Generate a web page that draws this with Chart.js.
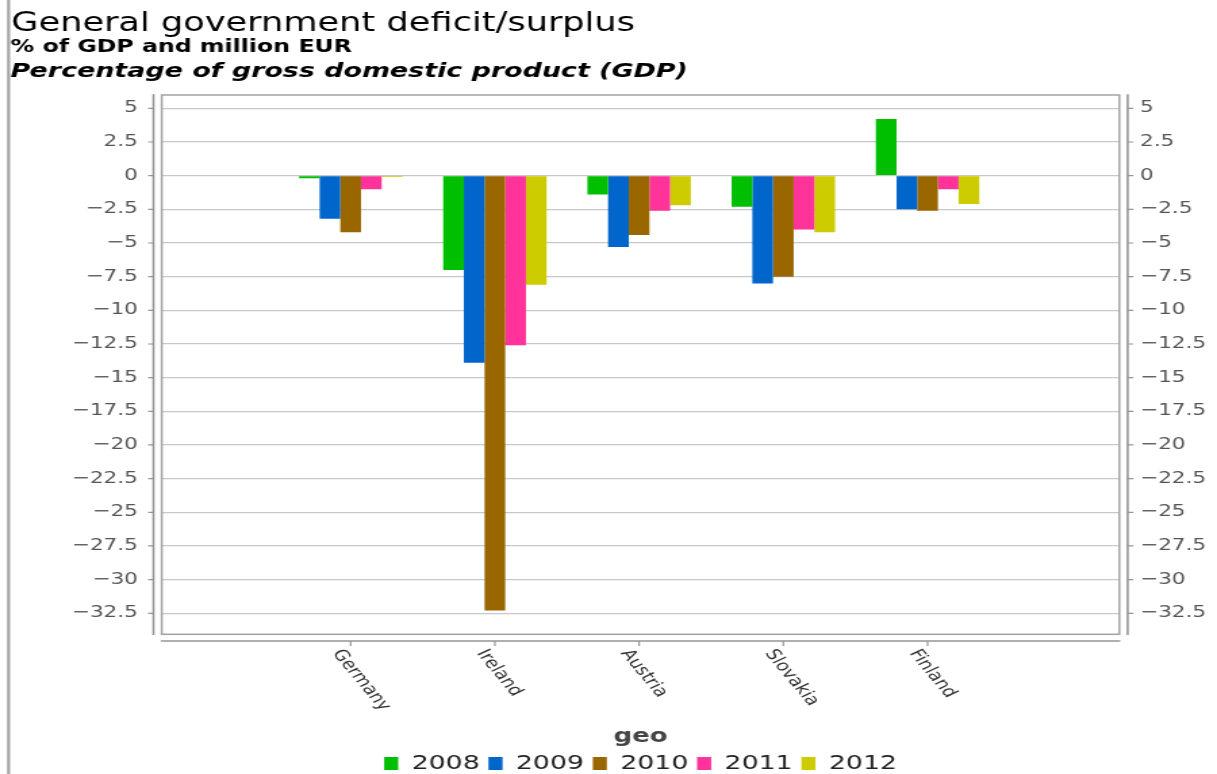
<!DOCTYPE html>
<html>
<head>
<meta charset="utf-8">
<script src="https://cdn.jsdelivr.net/npm/chart.js@4/dist/chart.umd.min.js"></script>
<style>
  html, body { margin: 0; padding: 0; background: #ffffff; overflow: hidden; }
  /* the chart is laid out on a 900px-wide canvas and widened to the full window */
  #wrap { width: 900px; height: 774px; transform: scaleX(1.35222); transform-origin: 0 0; }
  canvas { display: block; }
</style>
</head>
<body>
<div id="wrap"><canvas id="c" width="900" height="774" style="width:900px;height:774px"></canvas></div>
<script>
// General government deficit/surplus, % of GDP
const categories = ['Germany', 'Ireland', 'Austria', 'Slovakia', 'Finland'];
const years = ['2008', '2009', '2010', '2011', '2012'];
const values2008 = [-0.2, -7.0, -1.4, -2.3, 4.2];
const values2009 = [-3.2, -13.9, -5.3, -8.0, -2.5];
const values2010 = [-4.2, -32.3, -4.4, -7.5, -2.6];
const values2011 = [-1.0, -12.6, -2.6, -4.0, -1.0];
const values2012 = [-0.1, -8.1, -2.2, -4.2, -2.1];
const yTickValues = [5, 2.5, 0, -2.5, -5, -7.5, -10, -12.5, -15, -17.5, -20, -22.5, -25, -27.5, -30, -32.5];

const titleText = 'General government deficit/surplus';
const unitText = '% of GDP and million EUR';
const measureText = 'Percentage of gross domestic product (GDP)';
const xAxisTitle = 'geo';

const series = [values2008, values2009, values2010, values2011, values2012];
const seriesColors = ['#00bf00', '#0066cc', '#996600', '#ff3399', '#cccc00'];

Chart.defaults.font.family = '"DejaVu Sans", Verdana, sans-serif';

function fmtTick(v) {
  if (v === 0) return '0';
  return v < 0 ? '\u2212' + String(Math.abs(v)) : String(v);
}

const Y_MIN = -34.06, Y_MAX = 5.99;
const LEGEND_DROP = 9.4;

// plot frame, offset axis lines, tick marks, slanted category labels and the header
const frame = {
  id: 'frame',
  afterLayout(chart) {
    // let the legend sit a little lower, into the bottom margin
    if (chart.legend) {
      chart.legend.top += LEGEND_DROP;
      chart.legend.bottom += LEGEND_DROP;
    }
  },
  afterDatasetsDraw(chart) {
    const { ctx, chartArea: a, scales } = chart;
    const gapX = 6.1, gapY = 6.7;
    ctx.save();
    ctx.strokeStyle = '#a2a2a2';
    ctx.lineWidth = 1.5;
    ctx.strokeRect(a.left, a.top, a.right - a.left, a.bottom - a.top);

    ctx.strokeStyle = '#959595';
    ctx.lineWidth = 1.6;
    ctx.beginPath();
    ctx.moveTo(a.left - gapX, a.top - 0.7);
    ctx.lineTo(a.left - gapX, a.bottom + 0.8);
    ctx.moveTo(a.right + gapX, a.top - 0.7);
    ctx.lineTo(a.right + gapX, a.bottom + 0.8);
    ctx.moveTo(a.left - 0.7, a.bottom + gapY);
    ctx.lineTo(a.right + 0.7, a.bottom + gapY);
    ctx.stroke();

    ctx.lineWidth = 1.2;
    ctx.beginPath();
    for (const v of yTickValues) {
      const y = scales.y.getPixelForValue(v);
      ctx.moveTo(a.left - gapX - 4, y);
      ctx.lineTo(a.left - gapX, y);
      ctx.moveTo(a.right + gapX, y);
      ctx.lineTo(a.right + gapX + 4.3, y);
    }
    categories.forEach((c, i) => {
      const x = scales.x.getPixelForValue(i);
      ctx.moveTo(x, a.bottom + gapY);
      ctx.lineTo(x, a.bottom + gapY + 5);
    });
    ctx.stroke();

    ctx.fillStyle = '#333333';
    ctx.font = '15px "DejaVu Sans", Verdana, sans-serif';
    ctx.textAlign = 'left';
    ctx.textBaseline = 'middle';
    const angle = 58 * Math.PI / 180;
    categories.forEach((c, i) => {
      const x = scales.x.getPixelForValue(i);
      ctx.save();
      ctx.translate(x - 10.5, a.bottom + gapY + 10);
      ctx.rotate(angle);
      ctx.fillText(c, 0, 0);
      ctx.restore();
    });
    ctx.restore();
  },
  afterDraw(chart) {
    const { ctx } = chart;
    ctx.save();
    ctx.fillStyle = '#a6a6a6';
    ctx.fillRect(5.2, 0, 2.3, chart.height);
    ctx.fillStyle = '#000000';
    ctx.textAlign = 'left';
    ctx.textBaseline = 'alphabetic';
    ctx.font = '26px "DejaVu Sans", Verdana, sans-serif';
    ctx.fillText(titleText, 8.3, 31);
    ctx.font = 'bold 17.5px "DejaVu Sans", Verdana, sans-serif';
    ctx.fillText(unitText, 7.8, 52);
    ctx.font = 'italic bold 19.9px "DejaVu Sans", Verdana, sans-serif';
    ctx.fillText(measureText, 7.8, 77);
    ctx.restore();
  }
};

new Chart(document.getElementById('c'), {
  type: 'bar',
  data: {
    datasets: years.map((yr, k) => ({
      label: yr,
      data: categories.map((c, i) => ({ x: i, y: series[k][i] })),
      backgroundColor: seriesColors[k],
      borderWidth: 0,
      categoryPercentage: 0.717,
      barPercentage: 1.0
    }))
  },
  options: {
    responsive: false,
    animation: false,
    devicePixelRatio: 1,
    layout: { padding: { top: 95, left: 8, right: 4, bottom: 0 } },
    plugins: {
      tooltip: { enabled: false },
      legend: {
        position: 'bottom',
        align: 'center',
        fullSize: false,
        labels: {
          boxWidth: 10.4,
          boxHeight: 13,
          padding: 6.5,
          color: '#222222',
          font: { size: 19.8 }
        }
      }
    },
    scales: {
      x: {
        type: 'linear',
        min: -1.31,
        max: 5.33,
        offset: false,
        grid: { display: false, drawTicks: false },
        border: { display: false },
        ticks: { display: false },
        afterBuildTicks: s => { s.ticks = categories.map((c, i) => ({ value: i })); },
        afterFit: s => { s.height = 103.4; },
        title: {
          display: true,
          text: xAxisTitle,
          color: '#444444',
          padding: 0,
          font: { size: 19.2, weight: 'bold', lineHeight: 0.07 }
        }
      },
      y: {
        position: 'left',
        min: Y_MIN,
        max: Y_MAX,
        grid: { color: '#c8c8c8', lineWidth: 1.2, drawTicks: false },
        border: { display: false },
        ticks: { padding: 17.6, color: '#555555', font: { size: 16 }, callback: v => fmtTick(v) },
        afterBuildTicks: s => { s.ticks = yTickValues.map(v => ({ value: v })); },
        afterFit: s => { s.width = 111.6; }
      },
      y2: {
        position: 'right',
        min: Y_MIN,
        max: Y_MAX,
        grid: { display: false, drawTicks: false },
        border: { display: false },
        ticks: { padding: 15.2, color: '#555555', font: { size: 16 }, callback: v => fmtTick(v) },
        afterBuildTicks: s => { s.ticks = yTickValues.map(v => ({ value: v })); },
        afterFit: s => { s.width = 68.2; }
      }
    }
  },
  plugins: [frame]
});
</script>
</body>
</html>
